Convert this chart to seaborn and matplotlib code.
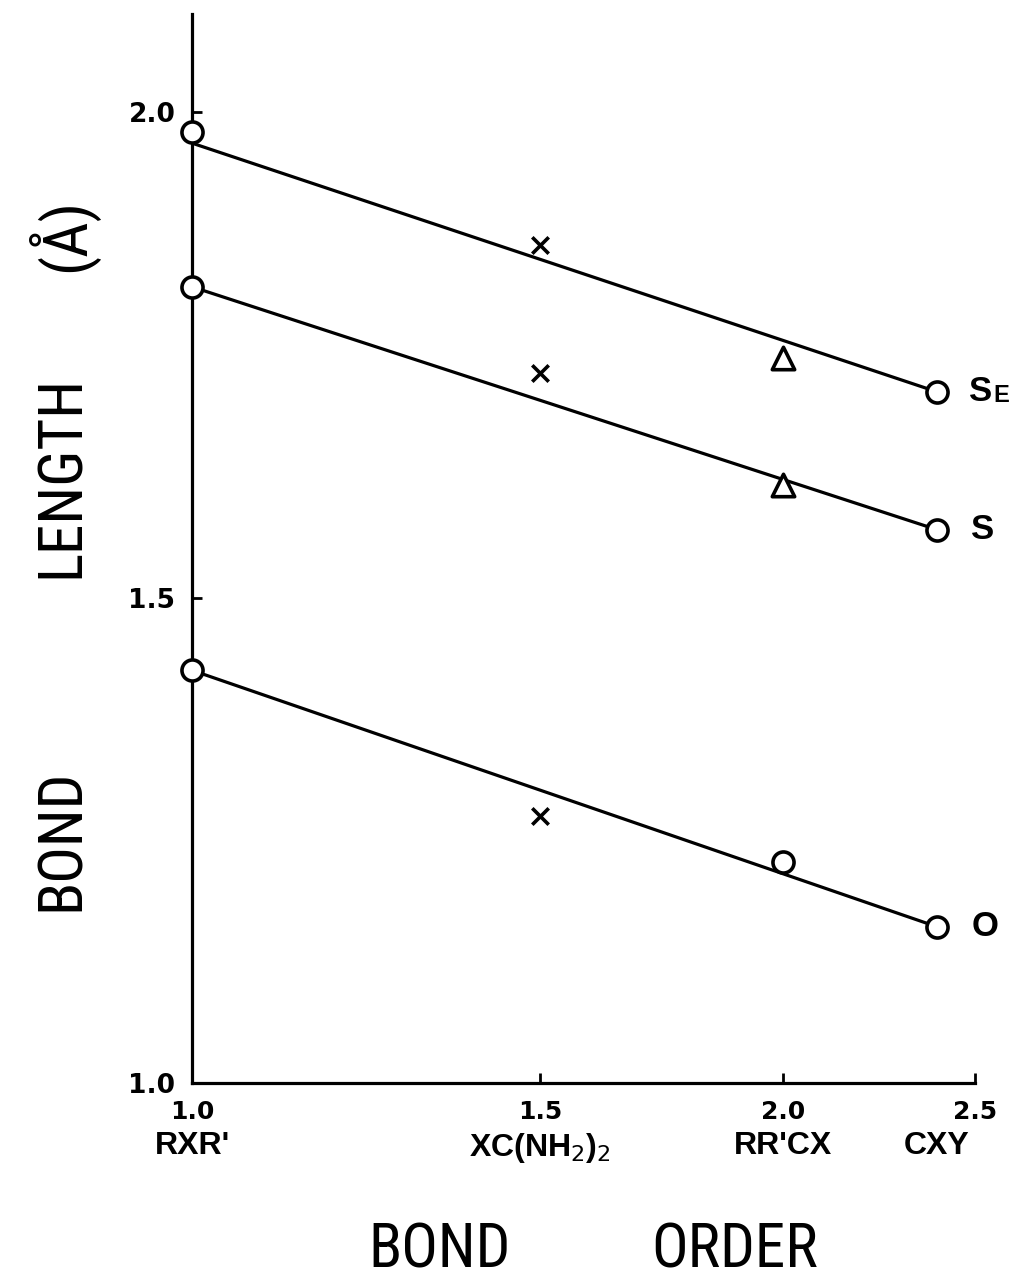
import numpy as np
import pandas as pd
import seaborn as sns
import matplotlib.pyplot as plt
from matplotlib import transforms

# compound types and their bond order
compounds = ["RXR'", r"XC(NH$_2$)$_2$", "RR'CX", "CXY"]
bond_order = [1.0, 1.5, 2.0, 2.4]

# bond lengths (A), one list per element
se_length = [1.979, 1.863, 1.747, 1.712]
s_length = [1.820, 1.731, 1.616, 1.570]
o_length = [1.425, 1.275, 1.228, 1.161]
se_kind = ['circle', 'cross', 'triangle', 'circle']
s_kind = ['circle', 'cross', 'triangle', 'circle']
o_kind = ['circle', 'cross', 'circle', 'circle']

# the straight lines drawn through the end points
fit_order = [1.0, 2.4]
se_fit = [1.968, 1.712]
s_fit = [1.820, 1.570]
o_fit = [1.425, 1.161]

x_ticks = [1.0, 1.5, 2.0, 2.5]
y_ticks = [1.0, 1.5, 2.0]

# the hand drawn x axis is not evenly spaced
tick_pos = [0.0, 348.0, 591.0, 783.0]


def fwd(x):
    return np.interp(x, x_ticks, tick_pos)


def inv(p):
    return np.interp(p, tick_pos, x_ticks)


sns.set_style('ticks')
plt.rcParams['font.family'] = ['DejaVu Sans']
for key in ['text.color', 'axes.labelcolor', 'xtick.color', 'ytick.color']:
    plt.rcParams[key] = 'black'
big_font = ['Roboto Condensed', 'Liberation Sans Narrow', 'Liberation Sans', 'DejaVu Sans']
name_font = ['Liberation Sans', 'DejaVu Sans']

fig = plt.figure(figsize=(10.15, 12.86), dpi=100)
fig.patch.set_facecolor('white')
ax = fig.add_axes([0.1892, 0.1579, 0.7714, 0.8312])
ax.set_xscale('function', functions=(fwd, inv))
ax.set_facecolor('none')

lw = 2.3
for fit in [se_fit, s_fit, o_fit]:
    sns.lineplot(x=fit_order, y=fit, ax=ax, color='black', linewidth=lw,
                 clip_on=False, zorder=2)

df = pd.DataFrame({
    'order': bond_order * 3,
    'length': se_length + s_length + o_length,
    'kind': se_kind + s_kind + o_kind,
})

circ = df[df['kind'] == 'circle']
sns.scatterplot(data=circ, x='order', y='length', ax=ax, marker='o', s=230,
                facecolor='white', edgecolor='black', linewidth=lw + 0.3,
                clip_on=False, zorder=4)
tri = df[df['kind'] == 'triangle']
sns.scatterplot(data=tri, x='order', y='length', ax=ax, marker='^', s=260,
                facecolor='white', edgecolor='black', linewidth=lw + 0.3,
                clip_on=False, zorder=4)
crs = df[df['kind'] == 'cross']
sns.scatterplot(data=crs, x='order', y='length', ax=ax, marker='x', s=140,
                color='black', linewidth=lw + 0.3, clip_on=False, zorder=4)

ax.set_xlim(1.0, 2.5)
ax.set_ylim(1.0, 2.101)
ax.set_xticks(x_ticks)
ax.set_xticklabels([f'{v:.1f}' for v in x_ticks], fontsize=18, fontweight='bold')
ax.set_yticks(y_ticks)
ax.set_yticklabels([f'{v:.1f}' for v in y_ticks], fontsize=19, fontweight='bold')
ax.tick_params(axis='both', direction='in', length=7, width=2, color='black')
ax.tick_params(axis='x', pad=12)
ax.tick_params(axis='y', pad=12)
ax.set_xlabel('')
ax.set_ylabel('')

sns.despine(ax=ax)
for side in ['left', 'bottom']:
    ax.spines[side].set_linewidth(lw)
    ax.spines[side].set_color('black')

# compound names under the numbers
trans = transforms.blended_transform_factory(ax.transData, ax.transAxes)
for xo, name in zip(bond_order, compounds):
    ax.text(xo, -0.045, name, transform=trans, ha='center', va='top',
            fontsize=23, fontweight='bold', family=name_font)

# element labels at the end of each line
ax.annotate('S', xy=(bond_order[-1], se_fit[-1]), xytext=(23, 0),
            textcoords='offset points', ha='left', va='center',
            fontsize=25, fontweight='bold', family=name_font,
            annotation_clip=False)
ax.annotate('E', xy=(bond_order[-1], se_fit[-1]), xytext=(41, -3),
            textcoords='offset points', ha='left', va='center',
            fontsize=17, fontweight='bold', family=name_font,
            annotation_clip=False)
ax.annotate('S', xy=(bond_order[-1], s_fit[-1]), xytext=(25, 0),
            textcoords='offset points', ha='left', va='center',
            fontsize=25, fontweight='bold', family=name_font,
            annotation_clip=False)
ax.annotate('O', xy=(bond_order[-1], o_fit[-1]), xytext=(25, 0),
            textcoords='offset points', ha='left', va='center',
            fontsize=25, fontweight='bold', family=name_font,
            annotation_clip=False)

# axis titles, words spaced out as in the drawing
for word, yc in [('BOND', 840), ('LENGTH', 476), ('(Å)', 235)]:
    fig.text(62 / 1015, 1 - yc / 1286, word, rotation=90, ha='center',
             va='center', fontsize=44, family=big_font)
for word, xc in [('BOND', 440), ('ORDER', 735)]:
    fig.text(xc / 1015, 1 - 1250 / 1286, word, ha='center', va='center',
             fontsize=44, family=big_font)

fig.savefig('out.png', dpi=100, facecolor='white')
